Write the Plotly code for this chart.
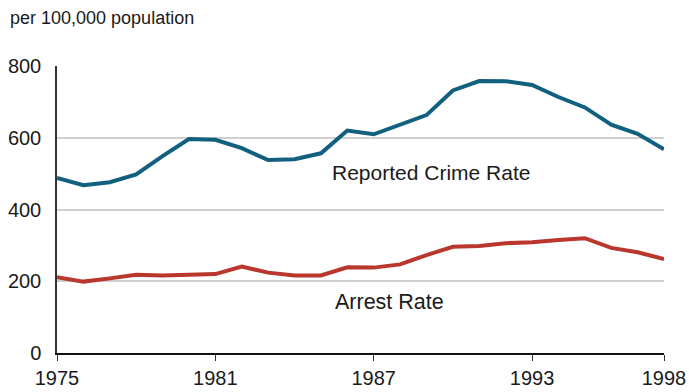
import plotly.graph_objects as go

# Annual rates per 100,000 population
years = list(range(1975, 1999))
reported_crime_rate = [487.8, 467.8, 475.9, 497.8, 548.9, 596.6, 594.3, 571.1,
                       537.7, 539.9, 556.6, 620.1, 609.7, 637.2, 663.1, 731.8,
                       758.2, 757.7, 747.1, 713.6, 684.5, 636.6, 611.0, 567.6]
arrest_rate = [211, 199, 208, 218, 216, 217, 220, 241, 224, 216, 216, 239,
               238, 247, 273, 296, 298, 306, 309, 315, 320, 293, 281, 262]

x_ticks = [1975, 1981, 1987, 1993, 1998]
y_ticks = [0, 200, 400, 600, 800]

FONT = "Liberation Sans, Arial, sans-serif"
BLUE = "#11607f"
RED = "#b9372c"

fig = go.Figure()
fig.add_trace(go.Scatter(x=years, y=reported_crime_rate, mode="lines",
                         line=dict(color=BLUE, width=4), name="Reported Crime Rate",
                         hoverinfo="x+y"))
fig.add_trace(go.Scatter(x=years, y=arrest_rate, mode="lines",
                         line=dict(color=RED, width=4), name="Arrest Rate",
                         hoverinfo="x+y"))

fig.add_annotation(x=1985.35, y=504, xref="x", yref="y", text="Reported Crime Rate",
                   showarrow=False, xanchor="left", yanchor="middle",
                   font=dict(family=FONT, size=21, color="#1a1a1a"))
fig.add_annotation(x=1985.45, y=142, xref="x", yref="y", text="Arrest Rate",
                   showarrow=False, xanchor="left", yanchor="middle",
                   font=dict(family=FONT, size=21.5, color="#1a1a1a"))

fig.update_layout(
    width=689, height=392,
    margin=dict(l=57, r=25, t=66, b=39),
    paper_bgcolor="white", plot_bgcolor="white",
    showlegend=False,
    font=dict(family=FONT, size=20, color="#1a1a1a"),
    title=dict(text="per 100,000 population", xref="container", yref="container",
               x=10 / 689, y=1 - 17.5 / 392, xanchor="left", yanchor="middle",
               font=dict(family=FONT, size=18, color="#1a1a1a")),
)
fig.update_xaxes(range=[1975, 1998], tickvals=x_ticks, ticktext=[str(t) for t in x_ticks],
                 showgrid=False, zeroline=False, showline=True, linecolor="#111111",
                 linewidth=1.5, ticks="outside", ticklen=6, tickwidth=1.2,
                 tickcolor="#333333", tickfont=dict(size=20), automargin=False)
fig.update_yaxes(range=[0, 800], tickvals=y_ticks, showgrid=True, gridcolor="#cfcfcf",
                 gridwidth=1.5, zeroline=False, showline=True, linecolor="#333333",
                 linewidth=1.5, ticks="", ticklabelstandoff=10, tickfont=dict(size=20),
                 automargin=False)

fig.write_html("out.html")
